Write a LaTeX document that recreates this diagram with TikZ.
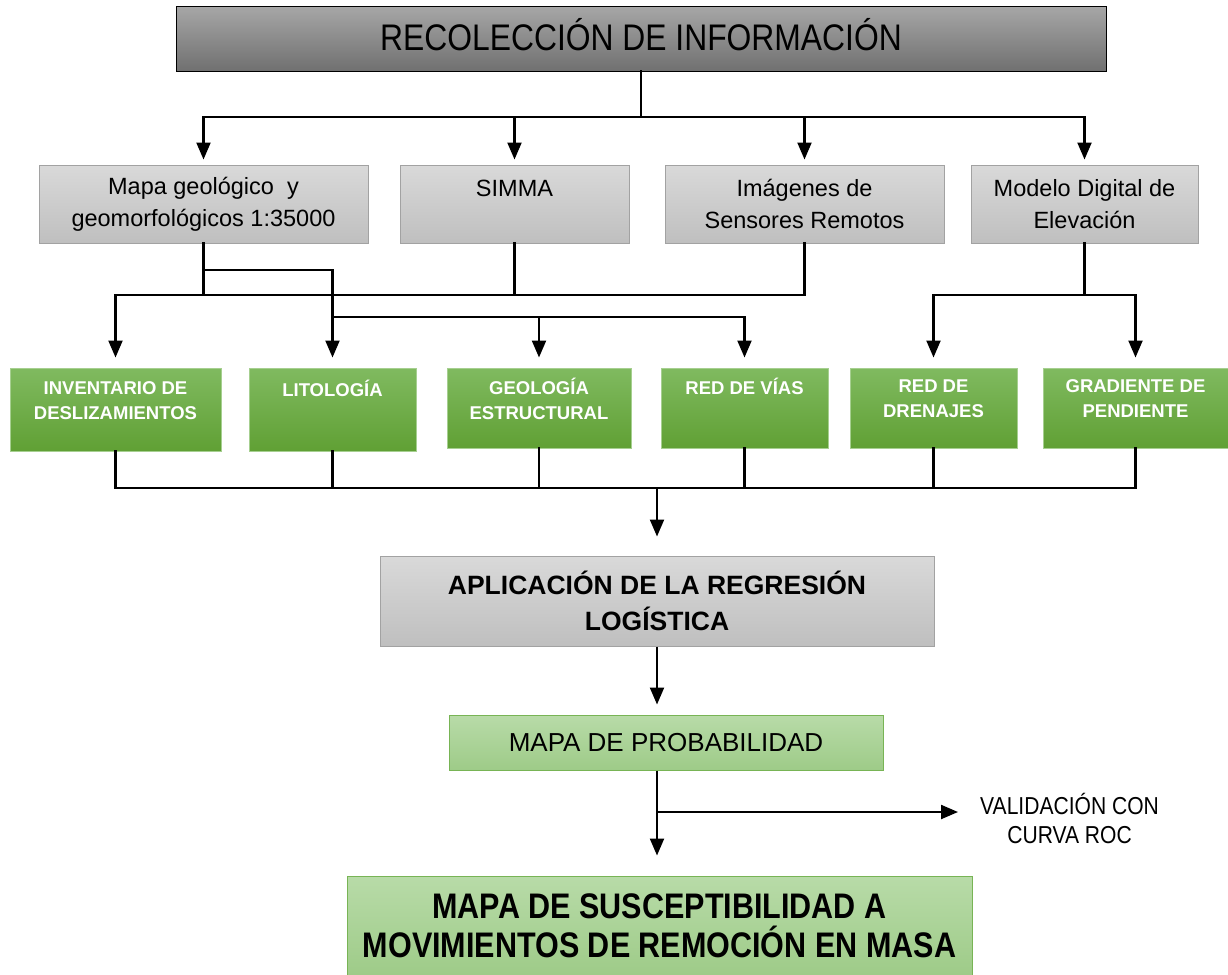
\documentclass[tikz,border=0pt]{standalone}
\usepackage{fontspec}
\setmainfont{Liberation Sans}
\newfontfamily\narrowfont[FakeStretch=0.86]{Liberation Sans}
\usetikzlibrary{arrows.meta}
\definecolor{grisA}{RGB}{217,217,217}
\definecolor{grisB}{RGB}{191,191,191}
\definecolor{grisC}{RGB}{166,166,166}
\definecolor{grisD}{RGB}{112,112,112}
\definecolor{verdeA}{RGB}{128,186,96}
\definecolor{verdeB}{RGB}{96,160,52}
\definecolor{verdeC}{RGB}{184,219,168}
\definecolor{verdeD}{RGB}{158,203,136}
\definecolor{verdeE}{RGB}{120,180,85}
\tikzset{caja/.style={inner sep=0pt,align=center,line width=1pt}}
\tikzset{titulo/.style={caja,draw=black,top color=grisC,bottom color=grisD,text depth=10pt,font=\narrowfont\fontsize{37}{40}\selectfont}}
\tikzset{fuente/.style={caja,draw=grisB!85!black,top color=grisA,bottom color=grisB,font=\fontsize{23.5}{32}\selectfont}}
\tikzset{capa/.style={caja,draw=verdeA!70!white,top color=verdeA,bottom color=verdeB,text=white,text depth=18pt,font=\bfseries\fontsize{18.5}{25}\selectfont}}
\tikzset{resultado/.style={caja,draw=verdeE,top color=verdeC,bottom color=verdeD}}
\tikzset{linea/.style={line width=2.2pt,line cap=rect}}
\tikzset{flecha/.style={line width=2.2pt,-{Triangle[length=17pt,width=14pt]},shorten >=10pt}}

\begin{document}
\begin{tikzpicture}[x=1pt,y=-1pt]
\useasboundingbox (0,0) rectangle (1228,974);

\node[titulo,minimum width=930pt,minimum height=64pt] (rec) at (641,39) {RECOLECCIÓN DE INFORMACIÓN};

\node[fuente,minimum width=329pt,minimum height=78pt] (mapa) at (203.5,204) {Mapa geológico\ \ y\\geomorfológicos 1:35000};
\node[fuente,minimum width=229pt,minimum height=78pt] (simma) at (514.5,204) {SIMMA\\\phantom{S}};
\node[fuente,minimum width=279pt,minimum height=78pt] (imag) at (804.5,204) {Imágenes de\\Sensores Remotos};
\node[fuente,minimum width=227pt,minimum height=78pt] (mde) at (1084.5,204) {Modelo Digital de\\Elevación};

\node[capa,minimum width=211pt,minimum height=83pt] (inv) at (115.5,409.5) {INVENTARIO DE\\DESLIZAMIENTOS};
\node[capa,minimum width=167pt,minimum height=83pt] (lito) at (332.5,409.5) {LITOLOGÍA\\\phantom{L}};
\node[capa,minimum width=184pt,minimum height=80pt] (geo) at (539,408) {GEOLOGÍA\\ESTRUCTURAL};
\node[capa,minimum width=167pt,minimum height=80pt] (vias) at (744.5,408) {RED DE VÍAS\\\phantom{R}};
\node[capa,minimum width=167pt,minimum height=80pt] (dren) at (933.5,408) {RED DE\\DRENAJES};
\node[capa,minimum width=185pt,minimum height=80pt] (grad) at (1135.5,408) {GRADIENTE DE\\PENDIENTE};

\node[fuente,minimum width=554pt,minimum height=90pt,font=\bfseries\fontsize{26.5}{36}\selectfont] (reg) at (657,601) {APLICACIÓN DE LA REGRESIÓN\\LOGÍSTICA};
\node[resultado,minimum width=434pt,minimum height=55pt,font=\fontsize{26}{30}\selectfont] (prob) at (666,742.5) {MAPA DE PROBABILIDAD};
\node[align=center,inner sep=0pt,anchor=west,font=\narrowfont\fontsize{24.5}{29}\selectfont] (roc) at (980,818) {VALIDACIÓN CON\\CURVA ROC};
\node[resultado,minimum width=625pt,minimum height=100pt,font=\narrowfont\bfseries\fontsize{35.5}{39}\selectfont] (final) at (659.5,926) {MAPA DE SUSCEPTIBILIDAD A\\MOVIMIENTOS DE REMOCIÓN EN MASA};

% recoleccion -> fuentes
\coordinate (busA) at (641,117);
\draw[linea] (rec.south) -- (busA);
\draw[linea] (mapa |- busA) -- (mde |- busA);
\foreach \n in {mapa,simma,imag,mde}
  \draw[flecha,shorten >=5pt] (\n |- busA) -- (\n.north);

% fuentes -> capas
\coordinate (busB) at (0,295);
\coordinate (busC) at (0,270);
\coordinate (busD) at (0,317);
\foreach \n in {mapa,simma,imag}
  \draw[linea] (\n.south) -- (\n |- busB);
\draw[linea] (inv |- busB) -- (imag |- busB);
\draw[flecha] (inv |- busB) -- (inv.north);
\draw[flecha] (mapa |- busC) -| (lito.north);
\draw[linea] (lito |- busD) -- (vias |- busD);
\draw[flecha] (geo |- busD) -- (geo.north);
\draw[flecha] (vias |- busD) -- (vias.north);
\draw[linea] (mde.south) -- (mde |- busB);
\draw[linea] (dren |- busB) -- (grad |- busB);
\draw[flecha] (dren |- busB) -- (dren.north);
\draw[flecha] (grad |- busB) -- (grad.north);

% capas -> regresion
\coordinate (busE) at (0,488);
\foreach \n in {inv,lito,geo,vias,dren,grad}
  \draw[linea] (\n.south) -- (\n |- busE);
\draw[linea] (inv |- busE) -- (grad |- busE);
\draw[flecha,shorten >=19pt] (reg |- busE) -- (reg.north);

% regresion -> mapas
\draw[flecha] (reg.south) -- (reg.south |- prob.north);
\coordinate (busF) at (0,812);
\draw[flecha,shorten >=20pt] (reg.south |- prob.south) -- (reg.south |- final.north);
\draw[flecha,shorten >=22pt] (reg.south |- busF) -- (roc.west |- busF);
\end{tikzpicture}
\end{document}
